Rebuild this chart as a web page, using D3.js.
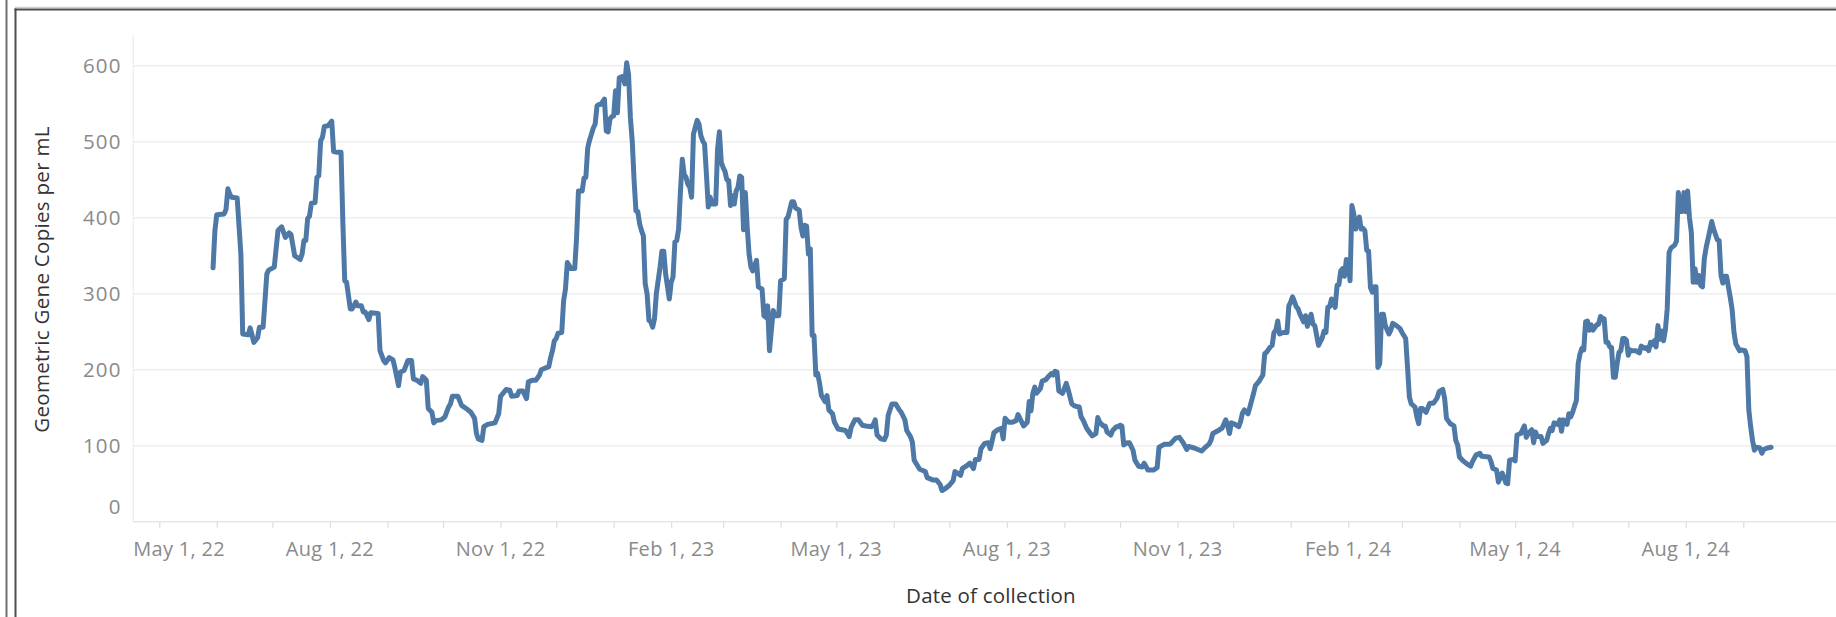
<!DOCTYPE html>
<html>
<head>
<meta charset="utf-8">
<script src="https://cdn.jsdelivr.net/npm/d3@7"></script>
<style>
  html, body { margin: 0; padding: 0; background: #fff; }
  svg { display: block; }
  text { font-family: "Open Sans", "Noto Sans", sans-serif; }
</style>
</head>
<body>
<svg id="chart" width="1836" height="617"></svg>
<script>
// Wastewater readings, grouped by month: day-of-month and geometric gene copies per mL
const readingMonths = [
  "2022-05","2022-06","2022-07","2022-08","2022-09","2022-10","2022-11","2022-12",
  "2023-01","2023-02","2023-03","2023-04","2023-05","2023-06","2023-07","2023-08",
  "2023-09","2023-10","2023-11","2023-12","2024-01","2024-02","2024-03","2024-04",
  "2024-05","2024-06","2024-07","2024-08","2024-09"
];
const readingDays = [
  [30,31],
  [1,5,6,7,8,9,12,14,15,18,19,21,23,24,26,28,29],
  [2,4,6,8,10,11,13,16,17,18,19,20,21,22,24,25,26,27,28,29,31],
  [2,3,5,7,8,9,10,12,13,15,16,18,19,20,22,23,27,28,30,31],
  [2,4,5,7,8,10,12,14,15,17,19,20,22,23,25,26,27,30],
  [2,4,5,6,9,11,14,16,18,19,20,22,23,25,29,31],
  [1,4,6,7,10,11,13,15,16,18,20,22,23,26,27,28,29,30],
  [1,2,4,5,6,7,9,11,12,13,15,16,17,18,19,21,22,23,24,25,27,28,29,30,31],
  [1,2,3,4,6,7,8,9,10,11,12,13,14,15,16,17,18,19,20,21,22,23,24,26,27,28,29,31],
  [1,2,3,4,5,6,7,8,9,10,11,12,13,14,15,16,17,18,19,20,21,22,23,25,26,27,28],
  [1,2,3,4,5,6,7,8,9,10,11,12,13,14,15,16,17,19,20,22,23,24,25,26,27,28,29,31],
  [1,3,4,5,7,8,9,11,12,13,14,15,16,17,18,19,20,21,22,23,25,26,27,29,30],
  [2,4,6,8,9,11,13,15,17,20,21,22,23,25,27,28,29,31],
  [2,4,5,7,8,10,11,12,13,15,18,19,22,24,26,27,29],
  [1,3,4,6,7,8,10,12,14,15,17,18,20,22,23,24,25,27,29,30,31],
  [2,4,6,7,9,10,12,13,14,15,16,17,19,20,22,23,25,26,27,28,29,31],
  [2,3,5,6,7,9,10,11,13,15,16,18,19,20,22,23,24,26,27,29,30],
  [1,2,3,5,6,8,9,11,13,14,16,19,21,22,25,28,31],
  [2,4,6,7,10,12,14,16,18,19,20,23,25,27,28,29,30],
  [2,4,5,6,7,9,11,12,13,15,17,18,19,21,22,23,24,25,26,28,30,31],
  [1,2,4,5,6,8,9,10,12,13,14,15,16,18,19,20,21,22,23,24,25,26,27,28,29,30,31],
  [1,2,3,4,5,6,7,8,9,10,11,12,13,14,15,16,17,18,19,20,21,23,24,25,27,29],
  [1,3,4,5,6,8,9,10,11,12,14,16,18,20,21,23,24,25,27,29,30,31],
  [1,3,5,7,8,10,12,13,17,18,19,21,22,24,25,26,27,28,30],
  [1,2,4,6,7,8,10,11,12,13,15,16,18,19,20,21,22,24,25,26,27,29,30,31],
  [1,2,3,4,5,6,7,8,9,10,11,12,14,15,16,17,18,19,20,21,22,23,24,25,26,27,28,29,30],
  [1,2,3,5,7,8,10,11,12,13,14,15,16,17,18,19,20,21,22,23,24,26,27,28,29,30,31],
  [1,2,3,4,5,6,7,8,9,10,11,12,14,15,16,18,19,20,21,22,23,24,25,26,27,28,30,31],
  [2,3,4,5,6,7,8,10,11,12,14,16]
];
const copiesPerML = [
  [334,383],
  [404,405,411,438,431,427,426,352,247,246,255,236,242,256,256,326,331],
  [335,383,388,374,380,378,350,345,352,370,370,399,402,419,420,453,455,501,506,520,521],
  [527,487,486,486,392,317,315,280,280,289,284,284,276,276,266,275,274,225,212,209],
  [216,213,203,179,197,199,212,212,188,186,182,191,186,149,144,130,133,134],
  [138,151,155,165,165,153,148,144,136,116,109,107,125,128,130,142],
  [165,174,173,165,166,172,172,162,184,186,186,193,200,203,204,216,225,238],
  [241,248,249,291,306,341,333,333,374,435,435,452,453,492,502,518,523,547,549,549,556,514,513,530,533],
  [534,567,538,584,586,576,604,589,532,501,449,409,408,392,383,376,313,300,265,263,256,267,300,335,356,356,326,293],
  [315,322,368,370,385,435,477,457,453,444,440,427,510,519,528,523,508,501,497,457,414,427,418,418,490,513,473],
  [466,461,450,449,416,429,418,435,440,455,453,384,433,387,352,335,330,344,309,306,271,269,284,225,252,278,271,271],
  [317,320,398,401,421,421,413,410,387,376,390,389,352,359,245,245,193,195,182,166,158,166,147,142,131],
  [122,121,120,112,124,134,134,127,126,125,128,134,114,109,108,114,140,155],
  [155,147,144,134,120,112,105,81,77,69,66,58,55,55,49,41,44],
  [48,54,66,63,61,70,73,77,70,82,82,96,103,104,96,106,117,121,123,109,136],
  [131,131,133,141,131,126,131,158,146,169,177,169,175,185,187,190,195,193,198,197,172,169],
  [182,174,155,153,152,151,138,134,123,116,113,116,137,131,126,126,118,114,120,125,125],
  [127,126,101,104,104,94,81,73,72,77,68,68,71,98,102,102,110],
  [111,104,95,99,97,95,93,98,102,107,116,120,123,134,127,116,130],
  [128,125,132,143,147,142,160,169,179,185,193,221,223,230,232,249,252,264,247,249,249,284],
  [289,296,283,280,273,263,271,257,273,260,258,245,232,242,251,249,282,283,293,289,282,311,312,330,333,323,345],
  [343,317,416,405,385,392,401,385,386,383,357,356,308,302,309,309,203,208,273,273,258,247,252,261,258,254],
  [249,241,203,164,155,151,138,129,149,149,144,156,156,163,171,174,162,136,129,126,107,101],
  [85,80,76,73,79,88,90,86,85,79,70,68,52,64,58,51,50,81,82],
  [80,114,116,126,111,116,121,104,118,112,112,103,107,116,123,120,130,128,134,119,134,128,142,138],
  [144,152,159,208,221,228,226,263,264,252,259,252,259,260,270,268,267,236,236,230,229,190,190,208,223,225,241,241,239],
  [219,226,225,225,222,231,228,229,225,236,233,238,230,258,240,251,238,252,280,354,360,364,369,433,408,408,433],
  [408,435,400,381,315,333,315,324,311,309,346,361,383,395,385,371,370,324,314,323,323,309,295,279,249,234,225,226],
  [225,217,147,125,107,94,98,97,90,95,97,98]
];

// Axis ticks and titles
const yTickValues = [0, 100, 200, 300, 400, 500, 600];
const xMajorTickDates = ["2022-05-01","2022-08-01","2022-11-01","2023-02-01","2023-05-01",
                         "2023-08-01","2023-11-01","2024-02-01","2024-05-01","2024-08-01"];
const xDomainDates = ["2022-04-17","2024-10-21"];
const yDomain = [0, 640];
const xAxisTitle = "Date of collection";
const yAxisTitle = "Geometric Gene Copies per mL";

const parse = d3.utcParse("%Y-%m-%d");
const pad = d => String(d).padStart(2, "0");

const readings = [];
readingMonths.forEach((m, i) => {
  readingDays[i].forEach((day, j) => {
    readings.push({ date: parse(`${m}-${pad(day)}`), value: copiesPerML[i][j] });
  });
});

const W = 1836, H = 617;
const plot = { left: 133.3, right: 1836, top: 35.3, bottom: 521.7 };

const x = d3.scaleUtc()
  .domain(xDomainDates.map(parse))
  .range([plot.left, plot.right]);
const y = d3.scaleLinear()
  .domain(yDomain)
  .range([plot.bottom, plot.top]);

const svg = d3.select("#chart");
svg.append("rect").attr("width", W).attr("height", H).attr("fill", "#fff");

// Dashboard frame
svg.append("line").attr("x1", 6.5).attr("x2", 6.5).attr("y1", 0).attr("y2", H)
  .attr("stroke", "#6f6f6f").attr("stroke-width", 2);
svg.append("line").attr("x1", 15).attr("x2", W).attr("y1", 7.3).attr("y2", 7.3)
  .attr("stroke", "#c4c4c4").attr("stroke-width", 1);
svg.append("line").attr("x1", 14.5).attr("x2", W).attr("y1", 9.5).attr("y2", 9.5)
  .attr("stroke", "#4d4d4d").attr("stroke-width", 2);
svg.append("line").attr("x1", 15.5).attr("x2", 15.5).attr("y1", 8.5).attr("y2", H)
  .attr("stroke", "#4d4d4d").attr("stroke-width", 2);

// Pane rules and gridlines
svg.append("line")
  .attr("x1", plot.left).attr("x2", plot.left)
  .attr("y1", plot.top).attr("y2", plot.bottom)
  .attr("stroke", "#f0f0f0").attr("stroke-width", 1.5);

svg.append("g").selectAll("line")
  .data(yTickValues.filter(v => v > 0))
  .join("line")
  .attr("x1", plot.left).attr("x2", plot.right)
  .attr("y1", d => y(d)).attr("y2", d => y(d))
  .attr("stroke", "#eeeeee").attr("stroke-width", 1.6);

// X axis: baseline, monthly ticks, quarterly labels
const xAxis = d3.axisBottom(x)
  .tickValues(d3.utcMonth.range(parse("2022-05-01"), parse("2024-10-01")))
  .tickSize(6)
  .tickFormat("");
const gx = svg.append("g")
  .attr("transform", `translate(0,${plot.bottom})`)
  .call(xAxis);
gx.select(".domain").remove();
gx.selectAll(".tick line").attr("stroke", "#dcdcdc").attr("stroke-width", 1.2);
svg.append("line")
  .attr("x1", plot.left).attr("x2", plot.right)
  .attr("y1", plot.bottom).attr("y2", plot.bottom)
  .attr("stroke", "#e6e6e6").attr("stroke-width", 1.5);

const fmt = d3.utcFormat("%b %-d, %y");
svg.append("g").selectAll("text")
  .data(xMajorTickDates.map(parse))
  .join("text")
  .attr("x", (d, i) => i === 0 ? plot.left : x(d))
  .attr("y", 556)
  .attr("text-anchor", (d, i) => i === 0 ? "start" : "middle")
  .attr("fill", "#8a8a8a")
  .attr("font-size", 20)
  .attr("letter-spacing", 0.3)
  .text(d => fmt(d));

// Y axis labels
svg.append("g").selectAll("text")
  .data(yTickValues)
  .join("text")
  .attr("x", 121.7)
  .attr("y", d => Math.min(y(d) + 7.2, 513.7))
  .attr("text-anchor", "end")
  .attr("fill", "#8a8a8a")
  .attr("font-size", 20.5)
  .attr("letter-spacing", 1.2)
  .text(d => d3.format("d")(d));

// Series
const line = d3.line()
  .x(d => x(d.date))
  .y(d => y(d.value));
svg.append("path")
  .datum(readings)
  .attr("d", line)
  .attr("fill", "none")
  .attr("stroke", "#4e79a7")
  .attr("stroke-width", 5)
  .attr("stroke-linejoin", "round")
  .attr("stroke-linecap", "round");

// Axis titles
svg.append("text")
  .attr("x", 991).attr("y", 602.5)
  .attr("text-anchor", "middle")
  .attr("fill", "#333")
  .attr("font-size", 20.5)
  .attr("letter-spacing", 0.2)
  .text(xAxisTitle);
svg.append("text")
  .attr("transform", "translate(49,279.5) rotate(-90)")
  .attr("text-anchor", "middle")
  .attr("fill", "#333")
  .attr("font-size", 20.5)
  .attr("letter-spacing", 0.3)
  .text(yAxisTitle);
</script>
</body>
</html>
